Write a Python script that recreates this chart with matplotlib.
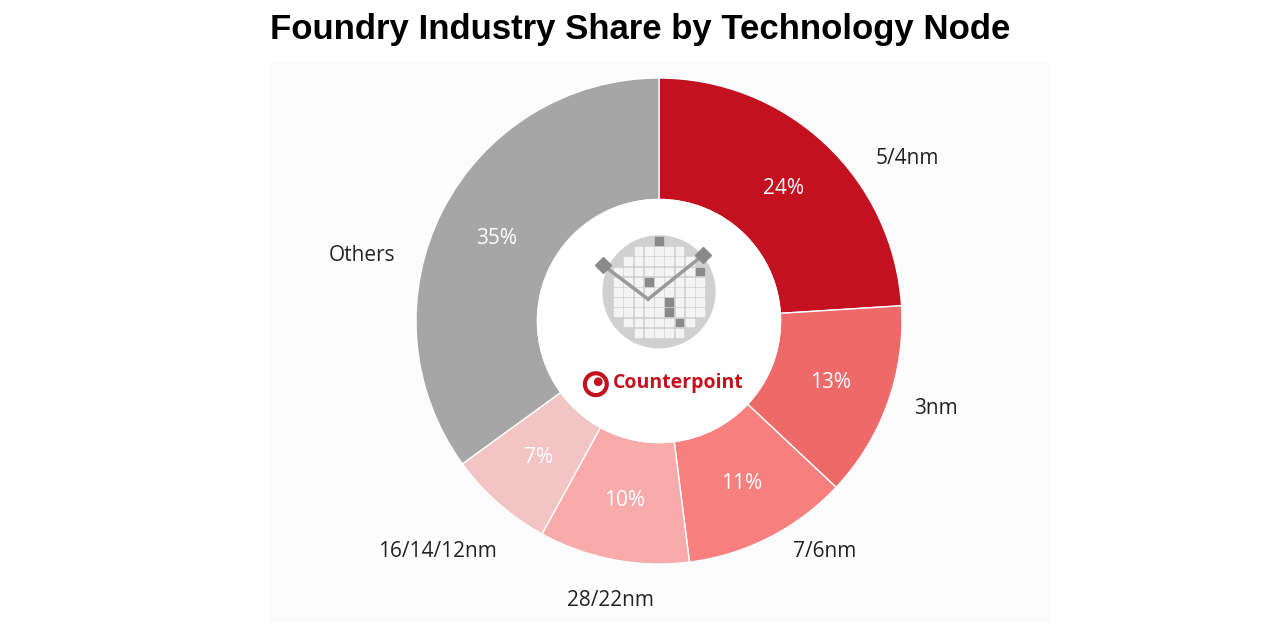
import matplotlib
matplotlib.use("Agg")
import matplotlib.pyplot as plt
import numpy as np
from matplotlib.patches import Circle, Rectangle

nodes = ["5/4nm", "3nm", "7/6nm", "28/22nm", "16/14/12nm", "Others"]
shares = [24, 13, 11, 10, 7, 35]
colors = ["#C3111F", "#EE6A69", "#F77F7E", "#F9AAAA", "#F2C4C3", "#A6A6A6"]

W, H = 1280, 627
fig = plt.figure(figsize=(W/100, H/100), dpi=100)
fig.patch.set_facecolor("white")
bg = fig.add_axes([270/W, 1-622/H, 780/W, 560/H])
bg.set_facecolor("#FCFCFC"); bg.set_xticks([]); bg.set_yticks([])
for s in bg.spines.values(): s.set_visible(False)

cx, cy, R = 659, 321, 243
lim = 1.07
size = 2*lim*R
ax = fig.add_axes([(cx-size/2)/W, 1-(cy+size/2)/H, size/W, size/H])

wedges, _ = ax.pie(shares, colors=colors, startangle=90, counterclock=False,
                   radius=1.0, wedgeprops=dict(width=0.5, edgecolor="white", linewidth=1))
ax.set_xlim(-lim, lim); ax.set_ylim(-lim, lim); ax.set_aspect("equal"); ax.axis("off")
font = "Open Sans"
lab_pos = [(1.02, 0.67), (1.14, -0.36), (0.68, -0.95), (-0.20, -1.15), (-0.91, -0.95), (-1.22, 0.27)]
ang = 90
for i, (w, v) in enumerate(zip(wedges, shares)):
    mid = ang - v*3.6/2
    ang -= v*3.6
    t = np.deg2rad(mid)
    ax.text(0.75*np.cos(t), 0.75*np.sin(t), f"{v}%", color="white", fontsize=15,
            ha="center", va="center", family=font)
    ax.text(*lab_pos[i], nodes[i], color="#222222", fontsize=15,
            ha="center", va="center", family=font)

ax.add_patch(Circle((0, 0), 0.5, color="white", zorder=3))
# wafer icon
wx, wy, wr = 0.0, 0.12, 0.23
ax.add_patch(Circle((wx, wy), wr, color="#D0D0D0", zorder=4))
step = 0.042
for gx in np.arange(-0.21, 0.211, step):
    for gy in np.arange(-0.21, 0.211, step):
        if gx**2 + gy**2 < 0.19**2:
            ax.add_patch(Rectangle((wx+gx-0.016, wy+gy-0.016), 0.032, 0.032,
                                   color="#F4F4F4", zorder=5))
for gx, gy in [(0.0, 0.21), (0.168, 0.084), (0.042, -0.042), (0.042, -0.084), (0.084, -0.126), (-0.042, 0.042)]:
    ax.add_patch(Rectangle((wx+gx-0.016, wy+gy-0.016), 0.032, 0.032, color="#8A8A8A", zorder=6))
px, py = -0.045, 0.09
ax.plot([-0.23, px], [0.23, py], color="#9A9A9A", lw=2.5, zorder=7)
ax.plot([0.18, px], [0.27, py], color="#9A9A9A", lw=2.5, zorder=7)
ax.plot([-0.23, 0.18], [0.23, 0.27], ls="none", marker="D", ms=8, color="#8A8A8A", zorder=8)
ax.add_patch(Circle((-0.26, -0.26), 0.045, fill=False, ec="#C3111F", lw=3, zorder=8))
ax.add_patch(Circle((-0.25, -0.25), 0.015, color="#C3111F", zorder=8))
ax.text(-0.19, -0.255, "Counterpoint", color="#C3111F", fontsize=14, fontweight="bold",
        ha="left", va="center", family=font, zorder=8)

fig.text(640/W, 1-30/H, "Foundry Industry Share by Technology Node", ha="center", va="center",
         fontsize=25, fontweight="bold", family="Liberation Sans")
fig.savefig("out.png", dpi=100)
